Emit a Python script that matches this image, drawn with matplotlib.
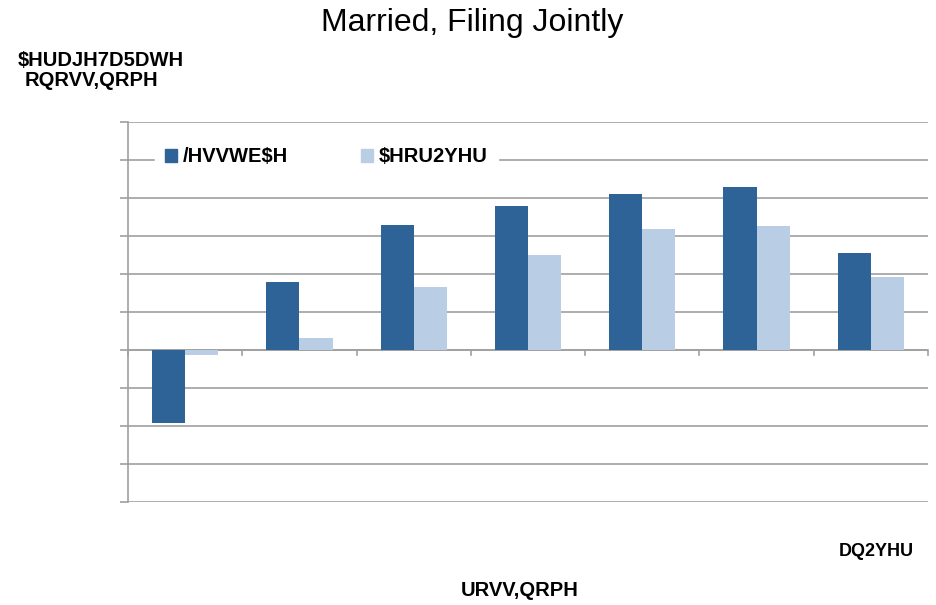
import numpy as np
import matplotlib.pyplot as plt
from matplotlib.patches import Patch

plt.rcParams['font.family'] = ['Liberation Sans', 'DejaVu Sans']

# data (units of one gridline step)
groups = np.arange(7)
less_than = [-1.92, 1.79, 3.29, 3.79, 4.10, 4.29, 2.55]
zero_over = [-0.13, 0.32, 1.66, 2.50, 3.18, 3.26, 1.92]
series_names = ['/HVVWE$H', '$HRU2YHU']

dark = '#2e6398'
light = '#b9cde5'
grid_c = '#a0a0a0'

fig = plt.figure(figsize=(9.36, 6.05), dpi=100)
ax = fig.add_axes([128/936, 1 - 502/605, 800/936, 380/605])

w = 0.29
ax.bar(groups - w/2, less_than, width=w, color=dark, zorder=3)
ax.bar(groups + w/2, zero_over, width=w, color=light, zorder=3)

ax.set_xlim(-0.5, 6.5)
ax.set_ylim(-4, 6)
ax.set_yticks(np.arange(-4, 7, 1))
ax.set_yticklabels([])
ax.yaxis.grid(True, color=grid_c, lw=1.2, zorder=0)
ax.tick_params(axis='y', length=6, color=grid_c, width=1.2)

# x axis drawn at zero with ticks at category boundaries
ax.set_xticks([])
ax.axhline(0, color=grid_c, lw=1.2, zorder=2)
for b in np.arange(-0.5, 7, 1):
    ax.plot([b, b], [0, -0.13], color=grid_c, lw=1.2, zorder=2, clip_on=False)

for s in ['top', 'right', 'bottom']:
    ax.spines[s].set_visible(False)
ax.spines['left'].set_color(grid_c)
ax.spines['left'].set_linewidth(1.2)

handles = [Patch(color=dark), Patch(color=light)]
leg = ax.legend(handles, series_names, loc='center left', bbox_to_anchor=(0.021, 0.908),
                ncol=2, frameon=True, fancybox=False, edgecolor='white', framealpha=1,
                handlelength=0.6, handleheight=0.6, handletextpad=0.3, columnspacing=3.6,
                borderpad=0.5, prop={'weight': 'bold', 'size': 14.5})
leg.set_zorder(5)

fig.text(472/936, 1 - 23/605, 'Married, Filing Jointly', ha='center', va='center', fontsize=23)
fig.text(18/936, 1 - 60/605, '$HUDJH7D5DWH', ha='left', va='center', fontsize=14.5, weight='bold')
fig.text(25/936, 1 - 81/605, 'RQRVV,QRPH', ha='left', va='center', fontsize=14.5, weight='bold')
fig.text(876/936, 1 - 552/605, 'DQ2YHU', ha='center', va='center', fontsize=13, weight='bold')
fig.text(520/936, 1 - 591/605, 'URVV,QRPH', ha='center', va='center', fontsize=14.5, weight='bold')

fig.savefig('out.png', dpi=100)
